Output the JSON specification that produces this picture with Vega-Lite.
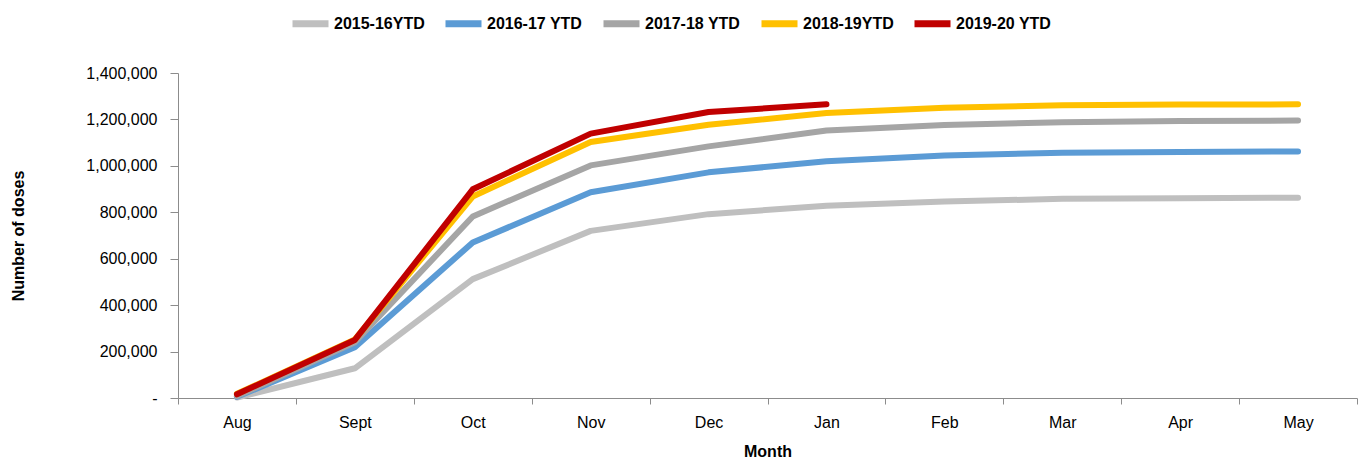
{
  "$schema": "https://vega.github.io/schema/vega-lite/v6.json",
  "width": 1179,
  "height": 325,
  "autosize": {"type": "none"},
  "padding": {"left": 178, "top": 73, "right": 5, "bottom": 61},
  "background": "white",
  "config": {
    "view": {"stroke": null},
    "font": "Liberation Sans",
    "axis": {
      "grid": false,
      "domainColor": "#8c8c8c",
      "tickColor": "#8c8c8c",
      "labelColor": "#000000",
      "titleColor": "#000000",
      "labelFontSize": 16,
      "titleFontSize": 16,
      "titleFontWeight": "bold",
      "labelFont": "Liberation Sans",
      "titleFont": "Liberation Sans"
    }
  },
  "data": {
    "values": [
      {"season": "2015-16YTD", "month": "Aug", "doses": 2000},
      {"season": "2015-16YTD", "month": "Sept", "doses": 128000},
      {"season": "2015-16YTD", "month": "Oct", "doses": 512000},
      {"season": "2015-16YTD", "month": "Nov", "doses": 720000},
      {"season": "2015-16YTD", "month": "Dec", "doses": 792000},
      {"season": "2015-16YTD", "month": "Jan", "doses": 828000},
      {"season": "2015-16YTD", "month": "Feb", "doses": 846000},
      {"season": "2015-16YTD", "month": "Mar", "doses": 858000},
      {"season": "2015-16YTD", "month": "Apr", "doses": 860000},
      {"season": "2015-16YTD", "month": "May", "doses": 863000},
      {"season": "2016-17 YTD", "month": "Aug", "doses": 5000},
      {"season": "2016-17 YTD", "month": "Sept", "doses": 219000},
      {"season": "2016-17 YTD", "month": "Oct", "doses": 670000},
      {"season": "2016-17 YTD", "month": "Nov", "doses": 886000},
      {"season": "2016-17 YTD", "month": "Dec", "doses": 972000},
      {"season": "2016-17 YTD", "month": "Jan", "doses": 1020000},
      {"season": "2016-17 YTD", "month": "Feb", "doses": 1045000},
      {"season": "2016-17 YTD", "month": "Mar", "doses": 1056000},
      {"season": "2016-17 YTD", "month": "Apr", "doses": 1060000},
      {"season": "2016-17 YTD", "month": "May", "doses": 1062000},
      {"season": "2017-18 YTD", "month": "Aug", "doses": 8000},
      {"season": "2017-18 YTD", "month": "Sept", "doses": 240000},
      {"season": "2017-18 YTD", "month": "Oct", "doses": 782000},
      {"season": "2017-18 YTD", "month": "Nov", "doses": 1002000},
      {"season": "2017-18 YTD", "month": "Dec", "doses": 1084000},
      {"season": "2017-18 YTD", "month": "Jan", "doses": 1152000},
      {"season": "2017-18 YTD", "month": "Feb", "doses": 1176000},
      {"season": "2017-18 YTD", "month": "Mar", "doses": 1188000},
      {"season": "2017-18 YTD", "month": "Apr", "doses": 1193000},
      {"season": "2017-18 YTD", "month": "May", "doses": 1195000},
      {"season": "2018-19YTD", "month": "Aug", "doses": 18000},
      {"season": "2018-19YTD", "month": "Sept", "doses": 252000},
      {"season": "2018-19YTD", "month": "Oct", "doses": 868000},
      {"season": "2018-19YTD", "month": "Nov", "doses": 1103000},
      {"season": "2018-19YTD", "month": "Dec", "doses": 1177000},
      {"season": "2018-19YTD", "month": "Jan", "doses": 1228000},
      {"season": "2018-19YTD", "month": "Feb", "doses": 1250000},
      {"season": "2018-19YTD", "month": "Mar", "doses": 1261000},
      {"season": "2018-19YTD", "month": "Apr", "doses": 1264000},
      {"season": "2018-19YTD", "month": "May", "doses": 1265000},
      {"season": "2019-20 YTD", "month": "Aug", "doses": 16000},
      {"season": "2019-20 YTD", "month": "Sept", "doses": 250000},
      {"season": "2019-20 YTD", "month": "Oct", "doses": 899000},
      {"season": "2019-20 YTD", "month": "Nov", "doses": 1139000},
      {"season": "2019-20 YTD", "month": "Dec", "doses": 1232000},
      {"season": "2019-20 YTD", "month": "Jan", "doses": 1265000}
    ]
  },
  "mark": {"type": "line", "strokeWidth": 6, "strokeCap": "round", "strokeJoin": "round"},
  "encoding": {
    "x": {
      "field": "month",
      "type": "nominal",
      "sort": ["Aug", "Sept", "Oct", "Nov", "Dec", "Jan", "Feb", "Mar", "Apr", "May"],
      "scale": {"type": "band", "paddingInner": 0, "paddingOuter": 0},
      "bandPosition": 0.5,
      "axis": {
        "title": "Month",
        "labelAngle": 0,
        "tickBand": "extent",
        "tickSize": 6,
        "labelPadding": 10,
        "titlePadding": 13
      }
    },
    "y": {
      "field": "doses",
      "type": "quantitative",
      "scale": {"domain": [0, 1400000]},
      "axis": {
        "title": "Number of doses",
        "values": [0, 200000, 400000, 600000, 800000, 1000000, 1200000, 1400000],
        "labelExpr": "datum.value == 0 ? '-' : format(datum.value, ',')",
        "tickSize": 8,
        "labelPadding": 13,
        "titleX": -152,
        "titleY": 162.5
      }
    },
    "color": {
      "field": "season",
      "type": "nominal",
      "scale": {
        "domain": ["2015-16YTD", "2016-17 YTD", "2017-18 YTD", "2018-19YTD", "2019-20 YTD"],
        "range": ["#BFBFBF", "#5B9BD5", "#A5A5A5", "#FFC000", "#C00000"]
      },
      "legend": {
        "orient": "none",
        "legendX": 111,
        "legendY": -71,
        "direction": "horizontal",
        "title": null,
        "symbolType": "stroke",
        "symbolStrokeWidth": 7,
        "symbolSize": 1296,
        "labelFont": "Liberation Sans",
        "labelFontSize": 16,
        "labelFontWeight": "bold",
        "labelColor": "#000000",
        "columnPadding": 6,
        "labelOffset": 2
      }
    }
  }
}
